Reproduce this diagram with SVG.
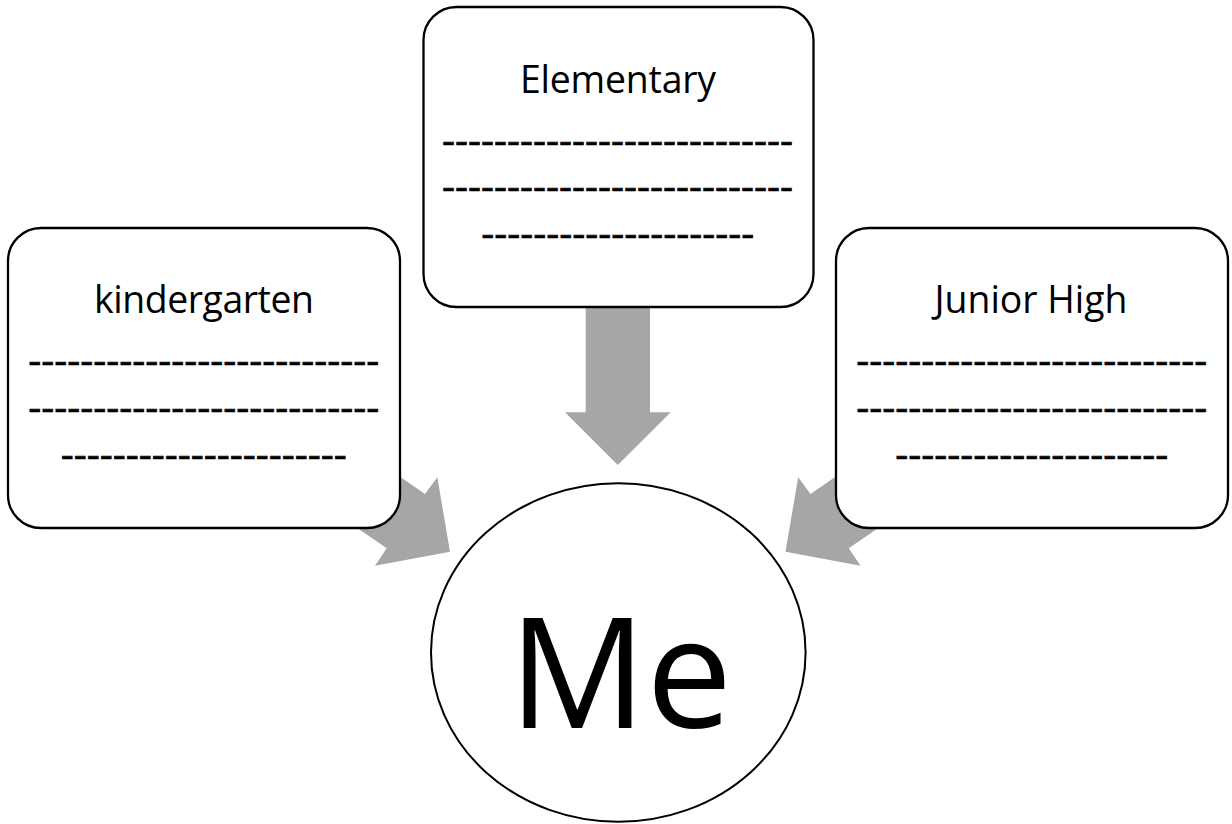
<svg xmlns="http://www.w3.org/2000/svg" width="1232" height="824" viewBox="0 0 1232 824">
  <style>
    .arrow { fill: #a6a6a6; stroke: none; }
    .box { fill: #ffffff; stroke: #000000; stroke-width: 2.3; }
    .head { font-family: "Open Sans", "Noto Sans", "Liberation Sans", sans-serif; font-size: 37.4px; fill: #000000; text-anchor: middle; }
    .dash { font-family: "Open Sans", "Noto Sans", "Liberation Sans", sans-serif; font-size: 37.4px; fill: #000000; stroke: #000000; stroke-width: 0.7; text-anchor: middle; }
    .me { font-family: "Open Sans", "Noto Sans", "Liberation Sans", sans-serif; font-size: 153px; fill: #000000; text-anchor: middle; }
  </style>
  <rect width="1232" height="824" fill="#ffffff"/>
  <g id="connectors">
    <polygon class="arrow" points="585.7,300 650,300 650,412.3 670.7,412.3 617.8,465 565,412.3 585.7,412.3"/>
    <polygon class="arrow" points="450,551.7 437.3,477.3 425,494 301.5,408.8 263.2,463.1 386.7,548.3 375,565.7"/>
    <polygon class="arrow" points="785.5,551.7 798.2,477.3 810.5,494 934,408.8 972.3,463.1 848.8,548.3 860.5,565.7"/>
  </g>
  <g id="kindergarten">
    <rect class="box" x="8" y="228" width="392" height="300" rx="33" ry="33"/>
    <text class="head" x="204" y="313.3" textLength="220">kindergarten</text>
    <text class="dash" x="203.8" y="374.3" textLength="351" lengthAdjust="spacingAndGlyphs">---------------------------</text>
    <text class="dash" x="203.8" y="421" textLength="351" lengthAdjust="spacingAndGlyphs">---------------------------</text>
    <text class="dash" x="203.7" y="467.7" textLength="286" lengthAdjust="spacingAndGlyphs">----------------------</text>
  </g>
  <g id="elementary">
    <rect class="box" x="423.5" y="7" width="390" height="300" rx="33" ry="33"/>
    <text class="head" x="618" y="93.3" textLength="196">Elementary</text>
    <text class="dash" x="617.5" y="154.3" textLength="351" lengthAdjust="spacingAndGlyphs">---------------------------</text>
    <text class="dash" x="617.5" y="200.3" textLength="351" lengthAdjust="spacingAndGlyphs">---------------------------</text>
    <text class="dash" x="617.8" y="247" textLength="273" lengthAdjust="spacingAndGlyphs">---------------------</text>
  </g>
  <g id="junior-high">
    <rect class="box" x="836" y="228" width="392" height="300" rx="33" ry="33"/>
    <text class="head" x="1031" y="313.3" textLength="193">Junior High</text>
    <text class="dash" x="1031.7" y="374.3" textLength="351" lengthAdjust="spacingAndGlyphs">---------------------------</text>
    <text class="dash" x="1031.7" y="421" textLength="351" lengthAdjust="spacingAndGlyphs">---------------------------</text>
    <text class="dash" x="1031.7" y="467.7" textLength="273" lengthAdjust="spacingAndGlyphs">---------------------</text>
  </g>
  <g id="me">
    <ellipse cx="618.3" cy="652.5" rx="187.3" ry="169.2" fill="#ffffff" stroke="#000000" stroke-width="2"/>
    <text class="me" x="620.5" y="727.7">Me</text>
  </g>
</svg>
